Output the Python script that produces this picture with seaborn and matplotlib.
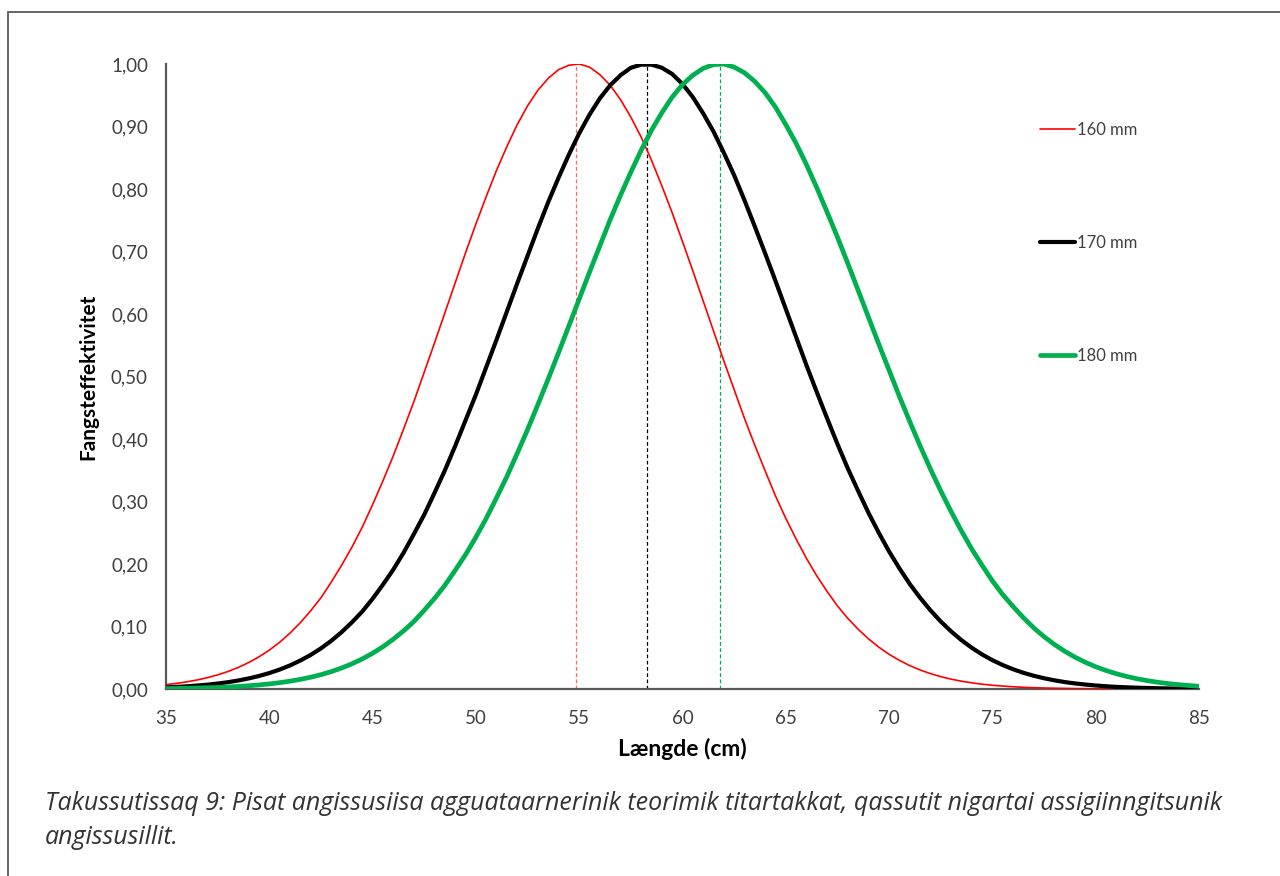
import numpy as np
import pandas as pd
import matplotlib
matplotlib.use("Agg")
import matplotlib.pyplot as plt
from matplotlib.patches import Rectangle
from matplotlib.ticker import FuncFormatter
import seaborn as sns

# length classes (cm) at 0.5 cm steps
length_cm = [35 + 0.5 * i for i in range(101)]

eff_160 = [0.0070, 0.0090, 0.0114, 0.0144, 0.0181, 0.0226, 0.0280, 0.0345, 0.0423, 0.0514,
           0.0622, 0.0747, 0.0893, 0.106, 0.125, 0.146, 0.171, 0.198, 0.227, 0.259,
           0.295, 0.333, 0.373, 0.416, 0.460, 0.507, 0.554, 0.602, 0.650, 0.698,
           0.744, 0.788, 0.830, 0.868, 0.903, 0.933, 0.958, 0.977, 0.991, 0.998,
           1.000, 0.995, 0.983, 0.966, 0.943, 0.915, 0.883, 0.846, 0.805, 0.762,
           0.716, 0.669, 0.621, 0.573, 0.525, 0.479, 0.433, 0.390, 0.349, 0.309,
           0.273, 0.240, 0.209, 0.181, 0.156, 0.133, 0.113, 0.0957, 0.0803, 0.0670,
           0.0555, 0.0458, 0.0374, 0.0305, 0.0246, 0.0198, 0.0158, 0.0125, 0.0099, 0.0077,
           0.0060, 0.0047, 0.0036, 0.0027, 0.0021, 0.0016, 0.0012, 0.0009, 0.0006, 0.0005,
           0.0003, 0.0002, 0.0002, 0.0001, 0.0001, 0.0001, 0.0001, 0.0000, 0.0000, 0.0000,
           0.0000]
eff_170 = [0.0026, 0.0034, 0.0043, 0.0055, 0.0069, 0.0087, 0.0109, 0.0136, 0.0169, 0.0208,
           0.0255, 0.0311, 0.0377, 0.0455, 0.0545, 0.0650, 0.0771, 0.0910, 0.1067, 0.124,
           0.1444, 0.167, 0.191, 0.218, 0.248, 0.279, 0.314, 0.350, 0.389, 0.430,
           0.471, 0.515, 0.559, 0.604, 0.649, 0.693, 0.737, 0.779, 0.818, 0.855,
           0.889, 0.919, 0.945, 0.966, 0.982, 0.994, 0.999, 0.999, 0.994, 0.984,
           0.968, 0.947, 0.921, 0.892, 0.858, 0.822, 0.782, 0.740, 0.697, 0.653,
           0.608, 0.563, 0.518, 0.475, 0.433, 0.392, 0.353, 0.317, 0.282, 0.250,
           0.220, 0.193, 0.168, 0.146, 0.126, 0.108, 0.0922, 0.0782, 0.0660, 0.0553,
           0.0461, 0.0383, 0.0316, 0.0259, 0.0212, 0.0172, 0.0139, 0.0111, 0.0089, 0.0071,
           0.0056, 0.0044, 0.0034, 0.0027, 0.0021, 0.0016, 0.0012, 0.0009, 0.0007, 0.0005,
           0.0004]
eff_180 = [0.0007, 0.0009, 0.0012, 0.0015, 0.0020, 0.0025, 0.0032, 0.0041, 0.0052, 0.0065,
           0.0081, 0.0101, 0.0125, 0.0154, 0.0188, 0.0229, 0.0278, 0.0336, 0.0403, 0.0481,
           0.0572, 0.0676, 0.0796, 0.0931, 0.108, 0.126, 0.145, 0.166, 0.190, 0.215,
           0.243, 0.273, 0.306, 0.340, 0.377, 0.415, 0.455, 0.496, 0.538, 0.581,
           0.624, 0.667, 0.709, 0.751, 0.790, 0.827, 0.862, 0.894, 0.922, 0.947,
           0.967, 0.982, 0.993, 0.999, 1.000, 0.995, 0.986, 0.972, 0.954, 0.931,
           0.903, 0.873, 0.839, 0.802, 0.763, 0.723, 0.681, 0.638, 0.595, 0.552,
           0.510, 0.468, 0.428, 0.389, 0.352, 0.317, 0.284, 0.253, 0.224, 0.198,
           0.173, 0.151, 0.132, 0.114, 0.0978, 0.0837, 0.0713, 0.0604, 0.0509, 0.0427,
           0.0356, 0.0296, 0.0244, 0.0201, 0.0164, 0.0134, 0.0108, 0.0087, 0.0070, 0.0056,
           0.0044]

mesh_labels = ["160 mm", "170 mm", "180 mm"]
peak_cm = [54.85, 58.27, 61.83]
colors = ["#ff0000", "#000000", "#00b050"]
peak_colors = ["#ff6666", "#000000", "#00b050"]
widths = [1.2, 3.0, 3.4]

df = pd.DataFrame({
    "length": length_cm * 3,
    "eff": eff_160 + eff_170 + eff_180,
    "mesh": [m for m in mesh_labels for _ in length_cm],
})

sns.set_theme(style="white")
plt.rcParams["font.family"] = ["Lato", "DejaVu Sans"]

fig = plt.figure(figsize=(12.8, 8.76), dpi=100)
ax = fig.add_axes([166 / 1280, 1 - 689 / 876, 1033 / 1280, 625 / 876])

# dashed markers at each curve's peak
for pk, c in zip(peak_cm, peak_colors):
    ax.plot([pk, pk], [0, 1.0], color=c, lw=0.9, ls=(0, (3, 2)), zorder=1)

handles = []
for mesh, c, lw in zip(mesh_labels, colors, widths):
    sub = df[df["mesh"] == mesh]
    sns.lineplot(data=sub, x="length", y="eff", color=c, linewidth=lw, ax=ax,
                 zorder=3, legend=False)
    handles.append(plt.Line2D([], [], color=c, lw=lw, solid_capstyle="round"))

ax.set_xlim(35, 85)
ax.set_ylim(0, 1.0)
ax.set_xticks(range(35, 86, 5))
ax.set_yticks(np.arange(0, 1.01, 0.1))
ax.yaxis.set_major_formatter(FuncFormatter(lambda v, p: f"{v:.2f}".replace(".", ",")))
ax.tick_params(axis="both", length=0, labelsize=13.5, colors="#404040")
ax.tick_params(axis="y", pad=13)
ax.tick_params(axis="x", pad=15)

for side in ["top", "right"]:
    ax.spines[side].set_visible(False)
for side in ["left", "bottom"]:
    ax.spines[side].set_color("#595959")
    ax.spines[side].set_linewidth(1.6)

ax.set_xlabel("Længde (cm)", fontsize=16.5, fontweight="bold", color="black", labelpad=8)
ax.set_ylabel("Fangsteffektivitet", fontsize=15, fontweight="bold", color="black", labelpad=9)

leg = ax.legend(handles, mesh_labels, loc="center left", bbox_to_anchor=(0.846, 0.7136),
                frameon=False, fontsize=12, labelspacing=5.8, handlelength=2.1,
                handletextpad=0.15, borderpad=0, borderaxespad=0)
for t in leg.get_texts():
    t.set_color("#404040")

cap_font = ["Open Sans", "DejaVu Sans"]
fig.text(45 / 1280, 1 - 803 / 876,
         "Takussutissaq 9: Pisat angissusiisa agguataarnerinik teorimik titartakkat, "
         "qassutit nigartai assigiinngitsunik",
         fontsize=18, style="italic", color="#333333", va="center", ha="left",
         family=cap_font)
fig.text(45 / 1280, 1 - 838 / 876, "angissusillit.",
         fontsize=18, style="italic", color="#333333", va="center", ha="left",
         family=cap_font)

# frame around the figure block
fig.patches.append(Rectangle((8 / 1280, -0.05), 1.2, 1 - 12 / 876 + 0.05,
                             transform=fig.transFigure, fill=False,
                             edgecolor="#595959", lw=1.3))

fig.savefig("out.png", dpi=100)
